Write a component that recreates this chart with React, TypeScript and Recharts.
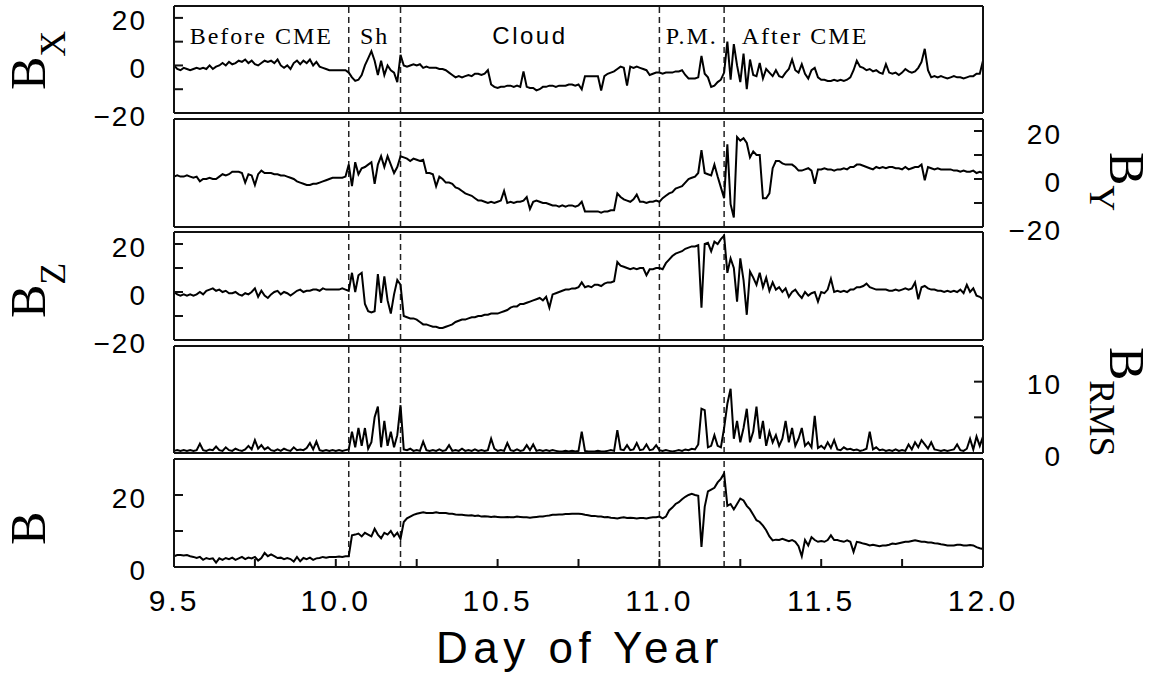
import React from 'react';
import { LineChart, Line, XAxis, YAxis, ReferenceLine, ReferenceArea } from 'recharts';

const W = 1158;
const H = 677;
const SANS = 'Liberation Sans, Arial, sans-serif';
const SERIF = 'Liberation Serif, Times New Roman, serif';
const AX = '#111';
const XAXIS_H = 1;

// sample times, 0.01 day apart
const STEP = 0.01;
const days = Array.from({ length: 251 }, (_, i) => +(9.5 + i * STEP).toFixed(2));

const bx = [
  0, -1.5, -2, -1, -1.5, -2, -1.5, -1, -1.5, -1,
  -1.5, 0, -1.5, -0.5, 0, 1, 0, 1.5, 0.5, 1,
  2, 1.5, 2.5, 1, 2, 0.5, 0, 1, 2, 1.5,
  2, 1, 2.5, 0, -1, 0, -1.5, 1, 2, 0.5,
  2, 1, 2.5, 0, 1.5, -0.5, -1, -1.5, -2, -2,
  -2, -2, -2, -2, -3, -5, -6.5, -6, -4, 0,
  3, 6, 2, -4, 2, -4, 0, -2, -3, -7,
  4.5, 0, -0.5, 0, 0.5, 0, 0.5, -1, -0.5, -1,
  -1, -1, -1.5, -1.5, -2, -3, -4, -5, -4.5, -5,
  -4.5, -4, -4.5, -3.5, -3.5, -4, -3.5, -2, -8, -9,
  -9.5, -9, -9, -8.5, -8.5, -9, -8.5, -9, -2.5, -9,
  -9.5, -9.5, -10.5, -10, -9, -9, -8.5, -8.5, -9, -8.5,
  -8.5, -8.5, -8, -8, -8.5, -8, -10, -4.5, -4.5, -4.5,
  -4.5, -4.5, -10.5, -4.5, -3.5, -3, -2.5, -1.5, -0.5, -1,
  -8.5, -0.5, -1, -0.5, -1, -1.5, -2, -4, -3.5, -3,
  -3, -3.5, -3, -3, -3, -2.5, -2.5, -2, -4, -5.5,
  -5.5, -5.5, -5, 4, -3.5, -5, -9, -8.5, -7, -6,
  -3, 10, -6, 9, 0, -7, 5, -10, 2.5, -4,
  -4.5, 1, -5.5, -1.5, -3, -4.5, -2, -4.5, -5, -3,
  -1.5, 2.5, -2, -3, 0.5, -3.5, -5.5, -2, -1, -5,
  -6, -6, -6.5, -6.5, -6, -6.5, -6, -6.5, -6, -5,
  -2, 2, -0.5, -1, -2, -1.5, -2.5, -2, -3, -3.5,
  0.5, -3, -3.5, -3, -4, -3, -1.5, -2.5, -3, -2.5,
  -1, 1.5, 7, -2, -5, -4.5, -5, -4.5, -5, -5.5,
  -5, -4.5, -5, -5, -5.5, -5, -4.5, -4.5, -3.5, -3.5,
  2,
];

const by = [
  1, 1.5, 1, 1, 1.5, 1, 0.5, 1, -1, 0,
  0, 0.5, 0, 0, 1, 2, 1.5, 2, 3, 3,
  3, 2.5, -1.5, 2, 1.5, -2.5, 2, 3.5, 2.5, 2.5,
  2.5, 2, 2, 1.5, 1.5, 1, 0.5, 0, -1, -1.5,
  -2, -2.5, -2.5, -2, -2, -1.5, -1, -0.5, 0, 0.5,
  0.5, 0.5, 0.5, 1, 6, -3, 7, 2, 4.5, 5,
  6, 7, -2, 6, 9.5, 5, 9.5, 6, 2.5, 5,
  9.5, 9, 8.5, 7.5, 8.5, 8, 7.5, 8, 2.5, 2.5,
  2, -3, 1, 0, -1.5, -1.5, -2, -3.5, -4, -5,
  -6, -6.5, -7, -8, -9, -9, -9.5, -10, -9.5, -10,
  -9.5, -9, -5, -10, -9.5, -10, -9.5, -9.5, -9, -7.5,
  -12.5, -9.5, -9, -9.5, -10, -10, -10.5, -11, -11, -11.5,
  -11, -11.5, -11, -11, -11.5, -11, -9.5, -13.5, -13.5, -13.5,
  -13.5, -13.5, -14, -13.5, -13.5, -13, -13, -6, -7.5, -8.5,
  -9, -9.5, -8.5, -6.5, -9.5, -9.5, -10, -9.5, -9.5, -9,
  -9.5, -8, -7, -6, -5.5, -4, -3.5, -3, -1.5, 0,
  0.5, 1, 2.5, 12, 2.5, 2, 1.5, 6, 1, -3.5,
  -8, 14.5, -10.5, -16, 17.5, 16, 17, 15, 9, 11.5,
  10, 10, -8, -8, -6, 4.5, 7.5, 7.5, 6.5, 6,
  6, 6, 5, 3.5, 3.5, 4, 4.5, 3.5, -2, 4,
  4, 4.5, 4, 4, 3.5, 4, 4, 4.5, 4, 5,
  5, 6, 6, 5.5, 5, 4.5, 4, 5, 4.5, 5,
  4.5, 5, 5, 4.5, 4.5, 4, 5, 4, 4.5, 5,
  5, 6, -0.5, 5, 4.5, 4, 4.5, 4, 4, 4,
  4, 3.5, 3.5, 3, 3.5, 3, 3, 3.5, 2.5, 3,
  2.5,
];

const bz = [
  0, -1, -1.5, -1, -1.5, -1, -1.5, -1, 0, -1,
  0.5, 1, 1.5, 0.5, 1, 0, 0.5, -0.5, -0.5, 0,
  -1, -1.5, -0.5, -1, 0, 1.5, -2, 0.5, -1.5, -2.5,
  -1, 0, 0.5, -1, 0, -0.5, -1.5, -0.5, 0.5, 1,
  0, 0.5, 0.5, 1, 1, 0.5, 1.5, 1, 1, 1,
  1, 1, 1.5, 1, 0.5, 8, 0, 7, 8, -5,
  -8, -8.5, -8, 7.5, -4.5, 6.5, -3.5, -9, -1, 5,
  3, -10, -10.5, -11, -11, -11.5, -12.5, -13.5, -13.5, -14,
  -14.5, -14.5, -15, -15, -14.5, -14, -13.5, -12.5, -12, -11.5,
  -11.5, -11, -10.5, -10.5, -10, -10, -9.5, -9.5, -9, -9,
  -9, -8.5, -8, -7.5, -6.5, -6, -6, -5, -5, -4.5,
  -4, -3.5, -3, -2.5, -3.5, -2, -6.5, -1, -0.5, 0,
  0.5, 1, 1, 1.5, 1.5, 2, 4, 2, 2.5, 2,
  3, 3, 2.5, 3.5, 4, 4, 4.5, 12.5, 11, 10.5,
  10, 9.5, 10, 9.5, 10, 10, 7, 9.5, 9.5, 10,
  10, 9.5, 12, 13.5, 15, 16, 16.5, 17, 18, 18.5,
  19, 19, 19.5, -6.5, 20, 20.5, 17, 21, 20, 22,
  23.5, 8, 14, 10, -4, 14, 5, -9.5, 8.5, 6,
  3, 8, 2, 6, 0.5, 4, 1, 2, 0, 1.5,
  -2, 0, 1, -1, -2.5, 0, -1.5, -0.5, 0, -4,
  0, -0.5, 1, 5.5, 0, 0.5, 0, 0.5, 0, 1,
  1, 2, 2, 2.5, 3.5, 2, 1.5, 1, 1, 1,
  1, 0.5, 0.5, 1, 0.5, 1, 1.5, 1, 1.5, 4,
  -3, 2, 2.5, 1.5, 1, 1, 0.5, 0.5, 0, 0.5,
  0, 0.5, 0, 1, -0.5, 3, 0, 1.5, -1.5, -2,
  -3,
];

const brms = [
  0.3, 0.4, 0.3, 0.4, 0.3, 0.4, 0.3, 0.4, 1.3, 0.4,
  0.3, 0.5, 0.4, 0.9, 0.4, 0.3, 0.8, 0.4, 0.3, 0.6,
  0.4, 0.3, 0.5, 1.0, 0.5, 1.8, 0.6, 1.1, 0.5, 0.8,
  0.4, 0.3, 0.5, 0.3, 0.6, 0.4, 0.3, 0.8, 0.4, 0.5,
  0.4, 0.7, 1.4, 0.5, 1.6, 0.4, 0.3, 0.4, 0.3, 0.4,
  0.3, 0.4, 0.3, 0.4, 0.5, 3, 0.8, 3.5, 1, 3.5,
  0.6, 1.5, 5, 6.5, 0.8, 4.5, 1, 3, 0.8, 2.5,
  6.7, 0.5, 0.4, 0.6, 0.3, 0.4, 0.3, 1.6, 0.4, 0.3,
  0.4, 0.3, 0.5, 0.3, 0.4, 1.1, 0.3, 0.4, 0.3, 0.6,
  0.3, 0.4, 0.3, 0.5, 0.3, 0.4, 0.3, 0.4, 2, 0.6,
  0.3, 0.4, 0.3, 1.4, 0.4, 0.3, 0.5, 0.3, 0.4, 1.1,
  0.4, 1.2, 0.3, 0.4, 0.3, 0.4, 0.3, 0.4, 0.3, 0.2,
  0.2, 0.3, 0.2, 0.3, 0.2, 0.3, 3, 0.3, 0.2, 0.2,
  0.2, 0.3, 0.2, 0.2, 0.3, 0.4, 0.3, 3.2, 0.5, 0.4,
  1.1, 0.4, 0.5, 1.4, 0.4, 0.5, 1.2, 0.4, 0.5, 1.1,
  0.4, 0.3, 0.4, 0.3, 0.2, 0.3, 0.4, 0.3, 0.5, 0.4,
  0.6, 0.5, 1.2, 6.2, 6, 0.8, 1, 2.5, 1, 0.8,
  3.5, 6.9, 9, 2, 4.5, 1.5, 3.5, 6.2, 1.5, 3,
  6.5, 2, 4.5, 1, 3, 1.5, 2.5, 1, 2, 4.5,
  1.5, 3.5, 1, 2, 3.5, 1, 1.5, 0.8, 5.2, 0.7,
  1, 0.6, 1.5, 0.7, 1.8, 0.5, 0.4, 0.8, 0.5, 0.6,
  0.4, 0.5, 0.3, 0.4, 0.6, 3, 0.5, 0.8, 0.4, 0.5,
  0.3, 0.4, 0.3, 0.5, 0.3, 0.4, 0.3, 1.2, 0.5, 1.5,
  0.8, 1.8, 1.2, 0.6, 1.5, 0.5, 0.4, 0.3, 0.4, 0.3,
  0.4, 0.5, 1.2, 0.4, 0.3, 0.6, 2, 0.5, 2.3, 1,
  2.3,
];

const bmag = [
  3, 3.3, 3.3, 3.2, 3.3, 3, 2.8, 2.5, 2.8, 2,
  2.5, 2.2, 2.4, 1.2, 2.4, 2, 2.5, 2.2, 2.6, 2,
  2.4, 2.8, 2.2, 2.6, 2.4, 2.8, 1.8, 2.5, 3.9, 3,
  3.5, 3, 2.5, 2.6, 2.2, 2.5, 2.2, 1.5, 2.8, 1.6,
  2.5, 2.2, 2.6, 2, 2.4, 2.5, 2.8, 2.6, 2.8, 2.8,
  2.8, 2.9, 2.8, 3, 3, 8.8, 9, 9.3, 8.5, 9.5,
  9, 8.5, 10.6, 9, 8, 9.5, 9, 10, 8.5, 9.5,
  7.8, 12.5, 13.5, 14, 14.5, 14.8, 15, 15.2, 15, 15,
  15, 15.2, 15, 15, 15, 14.8, 14.8, 14.6, 14.5, 14.5,
  14.4, 14.3, 14.4, 14.2, 14.3, 14, 14.1, 14, 13.9, 14,
  13.9, 13.8, 13.8, 13.9, 13.8, 13.8, 14, 13.9, 13.8, 13.8,
  13.7, 13.8, 13.9, 14, 14, 14.2, 14.3, 14.5, 14.5, 14.6,
  14.6, 14.7, 14.7, 14.8, 14.8, 14.8, 14.7, 14.5, 14.4, 14.2,
  14.2, 14, 14, 13.8, 13.9, 13.7, 13.6, 13.5, 13.7, 13.8,
  13.6, 13.7, 13.6, 13.5, 13.6, 13.6, 13.5, 13.7, 13.8, 13.8,
  14, 13.5, 14, 15.7, 16.5, 17.5, 18, 18.8, 19.5, 20,
  20.3, 20, 19.8, 5.6, 16.7, 21, 21.5, 22, 23.5, 24.5,
  26, 17, 17.5, 16, 17.5, 19, 18.5, 17, 16, 14.5,
  13, 12.5, 11.5, 10.2, 8.5, 7.4, 7.6, 7.5, 7.8, 7.5,
  7.2, 7.5, 7, 5.8, 3, 7.5, 6, 8.3, 7.5, 7,
  7.2, 7, 7.5, 8.8, 7.5, 7.5, 7.2, 7, 7.4, 7,
  4.2, 7, 6.8, 6.5, 6.3, 6, 6.2, 6, 5.8, 6,
  6, 6.2, 6.5, 6.4, 6.6, 6.8, 7, 7, 7.2, 7.4,
  7.2, 7, 7, 6.8, 6.8, 6.6, 6.5, 6.3, 6.2, 6,
  6, 6, 6.2, 6.2, 6, 6, 6.1, 6, 5.5, 5.2,
  5,
];

const rows = days.map((t, i) => ({ t, bx: bx[i], by: by[i], bz: bz[i], brms: brms[i], b: bmag[i] }));

const xTicks = [9.5, 9.75, 10, 10.25, 10.5, 10.75, 11, 11.25, 11.5, 11.75, 12];
const xLabels = [9.5, 10, 10.5, 11, 11.5, 12];
const boundaries = [10.04, 10.2, 11.0, 11.2];

const regions = [
  { name: 'Before CME', from: 9.5, to: 10.04, font: SERIF, spacing: 2 },
  { name: 'Sh', from: 10.04, to: 10.2, font: SERIF, spacing: 2 },
  { name: 'Cloud', from: 10.2, to: 11.0, font: SANS, spacing: 2.5 },
  { name: 'P.M.', from: 11.0, to: 11.2, font: SERIF, spacing: 2 },
  { name: 'After CME', from: 11.2, to: 11.7, font: SERIF, spacing: 2 },
];

type Panel = {
  key: string;
  top: number;
  bottom: number;
  domain: [number, number];
  ticks: number[];
  labels: number[];
  side: 'left' | 'right';
  title: string;
  sub: string;
  titleAt: number;
};

const panels: Panel[] = [
  { key: 'bx', top: 6, bottom: 113, domain: [-20, 25], ticks: [-20, -10, 0, 10, 20], labels: [-20, 0, 20], side: 'left', title: 'B', sub: 'X', titleAt: 90 },
  { key: 'by', top: 119, bottom: 227, domain: [-20, 25], ticks: [-20, -10, 0, 10, 20], labels: [-20, 0, 20], side: 'right', title: 'B', sub: 'Y', titleAt: 152 },
  { key: 'bz', top: 232, bottom: 340, domain: [-20, 25], ticks: [-20, -10, 0, 10, 20], labels: [-20, 0, 20], side: 'left', title: 'B', sub: 'Z', titleAt: 318 },
  { key: 'brms', top: 346, bottom: 453, domain: [0, 15], ticks: [0, 5, 10], labels: [0, 10], side: 'right', title: 'B', sub: 'RMS', titleAt: 347 },
  { key: 'b', top: 459, bottom: 567, domain: [0, 30], ticks: [0, 10, 20], labels: [0, 20], side: 'left', title: 'B', sub: '', titleAt: 545 },
];

const fmt = (v: number) => (v < 0 ? `\u2212${-v}` : `${v}`);

const makeYTick = (p: Panel) => (props: any) => {
  const v = props.payload?.value;
  if (!p.labels.includes(v)) return <g />;
  return (
    <text
      x={p.side === 'left' ? 147 : 1062}
      y={props.y + 12.5}
      textAnchor="end"
      fontSize={28}
      fontFamily={SANS}
      letterSpacing={2}
      fill="#000"
    >
      {fmt(v)}
    </text>
  );
};

const XTick = (props: any) => {
  const v = props.payload?.value;
  if (!xLabels.includes(v)) return <g />;
  return (
    <text x={props.x} y={611} textAnchor="middle" fontSize={30} fontFamily={SANS} letterSpacing={3} fill="#000">
      {v.toFixed(1)}
    </text>
  );
};

// rotated panel name, B with a subscript
const makeTitle = (p: Panel) => () => {
  const left = p.side === 'left';
  const tx = left ? 45 : 1110;
  return (
    <text
      transform={`translate(${tx}, ${p.titleAt}) rotate(${left ? -90 : 90})`}
      fontFamily={SERIF}
      fontSize={50}
      fill="#000"
    >
      {p.title}
      {p.sub && (
        <tspan fontSize={36} dy={20}>
          {p.sub}
        </tspan>
      )}
    </text>
  );
};

const axisName = () => (
  <text x={580} y={663} textAnchor="middle" fontSize={44} fontFamily={SANS} letterSpacing={5.5} fill="#000">
    Day of Year
  </text>
);

function PanelChart({ p, first, last }: { p: Panel; first: boolean; last: boolean }) {
  const yTick = makeYTick(p);
  return (
    <div style={{ position: 'absolute', left: 0, top: 0 }}>
      <LineChart
        width={W}
        height={H}
        data={rows}
        margin={{ top: p.top - XAXIS_H, bottom: H - p.bottom - XAXIS_H, left: 0, right: 0 }}
      >
        <XAxis
          xAxisId="b"
          dataKey="t"
          type="number"
          orientation="bottom"
          domain={[9.5, 12]}
          ticks={xTicks}
          interval={0}
          height={XAXIS_H}
          stroke={AX}
          strokeWidth={2}
          tickSize={-8}
          tick={last ? XTick : false}
          label={last ? axisName : undefined}
        />
        <XAxis
          xAxisId="t"
          dataKey="t"
          type="number"
          orientation="top"
          domain={[9.5, 12]}
          ticks={xTicks}
          interval={0}
          height={XAXIS_H}
          stroke={AX}
          strokeWidth={2}
          tickSize={-8}
          tick={false}
        />
        <YAxis
          yAxisId="l"
          orientation="left"
          type="number"
          width={174}
          domain={p.domain}
          ticks={p.ticks}
          interval={0}
          stroke={AX}
          strokeWidth={2}
          tickSize={-9}
          tick={p.side === 'left' ? yTick : false}
          label={p.side === 'left' ? makeTitle(p) : undefined}
        />
        <YAxis
          yAxisId="r"
          orientation="right"
          type="number"
          width={175}
          domain={p.domain}
          ticks={p.ticks}
          interval={0}
          stroke={AX}
          strokeWidth={2}
          tickSize={-9}
          tick={p.side === 'right' ? yTick : false}
          label={p.side === 'right' ? makeTitle(p) : undefined}
        />
        {first &&
          regions.map((r) => (
            <ReferenceArea
              key={r.name}
              xAxisId="b"
              yAxisId="l"
              x1={r.from}
              x2={r.to}
              fillOpacity={0}
              strokeOpacity={0}
              label={{
                value: r.name,
                position: 'insideTop',
                offset: 21,
                fontSize: 24,
                fontFamily: r.font,
                letterSpacing: r.spacing,
                fill: '#000',
              }}
            />
          ))}
        {boundaries.map((x) => (
          <ReferenceLine key={x} xAxisId="b" yAxisId="l" x={x} stroke="#222" strokeWidth={1.5} strokeDasharray="6 4" />
        ))}
        <Line
          xAxisId="b"
          yAxisId="l"
          dataKey={p.key}
          type="linear"
          stroke="#000"
          strokeWidth={2}
          dot={false}
          isAnimationActive={false}
        />
        <Line
          xAxisId="t"
          yAxisId="r"
          dataKey={p.key}
          type="linear"
          stroke="none"
          dot={false}
          isAnimationActive={false}
        />
      </LineChart>
    </div>
  );
}

export default function App() {
  return (
    <div style={{ position: 'absolute', left: 0, top: 0, width: W, height: H, background: '#fff' }}>
      {panels.map((p, i) => (
        <PanelChart key={p.key} p={p} first={i === 0} last={i === panels.length - 1} />
      ))}
    </div>
  );
}
